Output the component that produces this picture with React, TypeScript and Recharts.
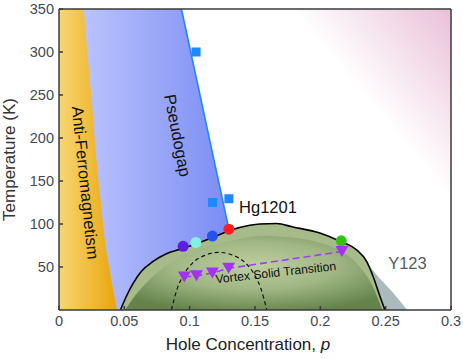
import React from "react";
import {
  ComposedChart,
  Area,
  Line,
  Scatter,
  XAxis,
  YAxis,
  ReferenceDot,
} from "recharts";

// p = hole concentration, T = temperature (K)
const afP = [0, 0.0184, 0.0222, 0.0255, 0.0286, 0.0318, 0.035, 0.0395, 0.0443];
const afT = [350, 350, 291, 235, 175, 128, 82, 40, 0];

const pseudogapP = [0, 0.0937, 0.13, 0.1305];
const pseudogapT = [350, 350, 94, 0];
const pgLineP = [0.0937, 0.13];
const pgLineT = [350, 94];

const bgP = [0, 0.3];
const bgT = [350, 350];

const y123P = [0.05, 0.1, 0.15, 0.2, 0.225, 0.236, 0.243, 0.2557, 0.2665];
const y123T = [0, 60, 90, 85, 68, 54, 41, 20, 0];

const hgDomeP = [
  0.047, 0.0516, 0.0567, 0.0631, 0.072, 0.0822, 0.0924, 0.1052, 0.118, 0.1307,
  0.146, 0.1537, 0.1665, 0.179, 0.1996, 0.215, 0.2277, 0.2354, 0.2404, 0.2456,
  0.2494,
];
const hgDomeT = [
  0, 16, 31, 45, 56.5, 65.5, 70.5, 77, 84.5, 92.5, 98.5, 100, 100.5, 96.5, 89.5,
  80, 70, 56.5, 39, 16, 0,
];

const hgCoreP = [
  0.0505, 0.06, 0.0733, 0.0924, 0.11, 0.13, 0.155, 0.18, 0.2, 0.2188, 0.23,
  0.24, 0.2475,
];
const hgCoreT = [0, 20, 41, 62, 72, 80, 86, 84, 78, 66, 50.7, 28, 0];

const dashDomeP = [
  0.086, 0.0905, 0.095, 0.1025, 0.1125, 0.1225, 0.1325, 0.1425, 0.15, 0.1545,
  0.159,
];
const dashDomeT = [0, 25, 40, 55, 64, 67, 64, 55, 40, 25, 0];

const vortexP = [0.0959, 0.1052, 0.1174, 0.1298, 0.2165];
const vortexT = [38.5, 39.7, 43, 48.5, 68];

const dotP = [0.095, 0.1047, 0.1174, 0.13, 0.216];
const dotT = [74, 78.5, 86, 94, 80.5];

const squareP = [0.1049, 0.1175, 0.13];
const squareT = [300, 125, 129.4];

const xTicks = [0, 0.05, 0.1, 0.15, 0.2, 0.25, 0.3];
const yTicks = [50, 100, 150, 200, 250, 300, 350];

const DOT_COLORS = ["#5b1ee6", "#7ff3dc", "#2353ec", "#ff1d1d", "#35bf1c"];
const FONT = '"Liberation Sans", Arial, Helvetica, sans-serif';
const FRAME = "#3a3a3a";

const pts = (ps: number[], ts: number[]) => ps.map((p, i) => ({ p, T: ts[i] }));

const rotatedText =
  (text: string, angle: number, size: number, color = "#111") =>
  (props: any) => {
    const vb = props.viewBox || {};
    const x = (vb.x ?? 0) + (vb.width ?? 0) / 2;
    const y = (vb.y ?? 0) + (vb.height ?? 0) / 2;
    return (
      <text
        x={x}
        y={y}
        transform={`rotate(${angle}, ${x}, ${y})`}
        textAnchor="middle"
        dominantBaseline="central"
        fontSize={size}
        fill={color}
      >
        {text}
      </text>
    );
  };

const plainText =
  (text: string, size: number, color: string) => (props: any) => {
    const vb = props.viewBox || {};
    return (
      <text x={vb.x ?? 0} y={vb.y ?? 0} fontSize={size} fill={color}>
        {text}
      </text>
    );
  };

const noLabel = () => <g />;

export default function App() {
  const axisLine = { stroke: FRAME, strokeWidth: 1.5 };
  const tickLine = { stroke: FRAME, strokeWidth: 1.5 };
  const tickStyle = { fill: "#454a50", fontSize: 14.5, fontFamily: FONT };

  return (
    <div
      style={{
        position: "absolute",
        left: 0,
        top: 0,
        width: 463,
        height: 359,
        background: "#fff",
        fontFamily: FONT,
      }}
    >
      <ComposedChart
        width={463}
        height={359}
        margin={{ top: 8, right: 11, bottom: 0, left: 0 }}
      >
        <defs>
          <linearGradient id="pinkGrad" x1="0.59" y1="0" x2="0.878" y2="-0.187">
            <stop offset="0" stopColor="#ffffff" />
            <stop offset="1" stopColor="#eac0d7" />
          </linearGradient>
          <linearGradient id="afGrad" x1="0" y1="0" x2="1" y2="0">
            <stop offset="0" stopColor="#f7d673" />
            <stop offset="1" stopColor="#eaa50a" />
          </linearGradient>
          <linearGradient id="pgGrad" x1="0" y1="0" x2="1" y2="0">
            <stop offset="0" stopColor="#c4ccff" />
            <stop offset="1" stopColor="#7b8cf3" />
          </linearGradient>
          <radialGradient id="coreGrad" cx="0.5" cy="0.4" r="0.65">
            <stop offset="0" stopColor="#bdd0a0" />
            <stop offset="0.5" stopColor="#a0b684" />
            <stop offset="1" stopColor="#63834a" />
          </radialGradient>
        </defs>

        <XAxis
          dataKey="p"
          type="number"
          domain={[0, 0.3]}
          ticks={xTicks}
          interval={0}
          allowDataOverflow
          height={49}
          tickSize={-4}
          tickMargin={10}
          axisLine={axisLine}
          tickLine={tickLine}
          tick={tickStyle}
          label={(props: any) => {
            const vb = props.viewBox || { x: 59, y: 310, width: 392 };
            return (
              <text
                x={vb.x + vb.width / 2 - 7}
                y={vb.y + 40}
                textAnchor="middle"
                fontSize={17}
                fill="#222"
              >
                Hole Concentration, <tspan fontStyle="italic">p</tspan>
              </text>
            );
          }}
        />
        <XAxis
          xAxisId="top"
          orientation="top"
          type="number"
          domain={[0, 0.3]}
          ticks={xTicks}
          interval={0}
          height={1}
          tickSize={-4}
          tick={noLabel}
          axisLine={axisLine}
          tickLine={tickLine}
        />
        <YAxis
          dataKey="T"
          type="number"
          domain={[0, 350]}
          ticks={yTicks}
          interval={0}
          allowDataOverflow
          width={59}
          tickSize={-4}
          tickMargin={9}
          axisLine={axisLine}
          tickLine={tickLine}
          tick={tickStyle}
          label={(props: any) => {
            const vb = props.viewBox || { x: 0, y: 9, height: 301 };
            const x = vb.x + 15;
            const y = vb.y + vb.height / 2;
            return (
              <text
                x={x}
                y={y}
                transform={`rotate(-90, ${x}, ${y})`}
                textAnchor="middle"
                fontSize={17}
                fill="#333"
              >
                Temperature (K)
              </text>
            );
          }}
        />
        <YAxis
          yAxisId="right"
          orientation="right"
          type="number"
          domain={[0, 350]}
          ticks={yTicks}
          interval={0}
          width={1}
          tickSize={-4}
          tick={noLabel}
          axisLine={axisLine}
          tickLine={tickLine}
        />

        {/* background regions */}
        <Area
          data={pts(bgP, bgT)}
          dataKey="T"
          type="linear"
          fill="url(#pinkGrad)"
          fillOpacity={1}
          stroke="none"
          dot={false}
          activeDot={false}
          isAnimationActive={false}
        />
        <Area
          data={pts(pseudogapP, pseudogapT)}
          dataKey="T"
          type="linear"
          fill="url(#pgGrad)"
          fillOpacity={1}
          stroke="none"
          dot={false}
          activeDot={false}
          isAnimationActive={false}
        />
        <Area
          data={pts(afP, afT)}
          dataKey="T"
          type="monotone"
          fill="url(#afGrad)"
          fillOpacity={1}
          stroke="none"
          dot={false}
          activeDot={false}
          isAnimationActive={false}
        />
        <Area
          data={pts(y123P, y123T)}
          dataKey="T"
          type="monotone"
          fill="#abbabc"
          fillOpacity={1}
          stroke="none"
          dot={false}
          activeDot={false}
          isAnimationActive={false}
        />
        <Area
          data={pts(hgDomeP, hgDomeT)}
          dataKey="T"
          type="monotone"
          fill="#a6bb89"
          fillOpacity={1}
          stroke="none"
          dot={false}
          activeDot={false}
          isAnimationActive={false}
        />
        <Area
          data={pts(hgCoreP, hgCoreT)}
          dataKey="T"
          type="monotone"
          fill="url(#coreGrad)"
          fillOpacity={1}
          stroke="none"
          dot={false}
          activeDot={false}
          isAnimationActive={false}
        />

        {/* boundaries */}
        <Line
          data={pts(hgDomeP, hgDomeT)}
          dataKey="T"
          type="monotone"
          stroke="#000"
          strokeWidth={1.6}
          dot={false}
          activeDot={false}
          isAnimationActive={false}
        />
        <Line
          data={pts(pgLineP, pgLineT)}
          dataKey="T"
          type="linear"
          stroke="#1f86ff"
          strokeWidth={1.6}
          dot={false}
          activeDot={false}
          isAnimationActive={false}
        />
        <Line
          data={pts(dashDomeP, dashDomeT)}
          dataKey="T"
          type="monotone"
          stroke="#111"
          strokeWidth={1.2}
          strokeDasharray="4 3"
          dot={false}
          activeDot={false}
          isAnimationActive={false}
        />
        <Line
          data={pts(vortexP, vortexT)}
          dataKey="T"
          type="linear"
          stroke="#a03ef2"
          strokeWidth={1.6}
          strokeDasharray="7 4"
          dot={false}
          activeDot={false}
          isAnimationActive={false}
        />

        {/* markers */}
        <Scatter
          data={pts(squareP, squareT)}
          dataKey="T"
          isAnimationActive={false}
          shape={(s: any) => (
            <rect x={s.cx - 4.5} y={s.cy - 4.5} width={9} height={9} fill="#1e88ff" />
          )}
        />
        {dotP.map((p, i) => (
          <Scatter
            key={i}
            data={pts([p], [dotT[i]])}
            dataKey="T"
            isAnimationActive={false}
            shape={(s: any) => (
              <circle cx={s.cx} cy={s.cy} r={5.5} fill={DOT_COLORS[i]} />
            )}
          />
        ))}
        <Scatter
          data={pts(vortexP, vortexT)}
          dataKey="T"
          isAnimationActive={false}
          shape={(s: any) => (
            <polygon
              points={`${s.cx - 6.5},${s.cy - 5.5} ${s.cx + 6.5},${s.cy - 5.5} ${s.cx},${s.cy + 5.5}`}
              fill="#a332f5"
            />
          )}
        />

        {/* annotations */}
        <ReferenceDot
          x={0.0204}
          y={148}
          r={0}
          fill="none"
          stroke="none"
          label={rotatedText("Anti-Ferromagnetism", 84, 16.5)}
        />
        <ReferenceDot
          x={0.091}
          y={203}
          r={0}
          fill="none"
          stroke="none"
          label={rotatedText("Pseudogap", 79, 16.5)}
        />
        <ReferenceDot
          x={0.1659}
          y={43.4}
          r={0}
          fill="none"
          stroke="none"
          label={rotatedText("Vortex Solid Transition", -6.3, 12.2)}
        />
        <ReferenceDot
          x={0.1378}
          y={113}
          r={0}
          fill="none"
          stroke="none"
          label={plainText("Hg1201", 16.5, "#111")}
        />
        <ReferenceDot
          x={0.2519}
          y={47.7}
          r={0}
          fill="none"
          stroke="none"
          label={plainText("Y123", 16.5, "#565c63")}
        />
      </ComposedChart>
    </div>
  );
}
